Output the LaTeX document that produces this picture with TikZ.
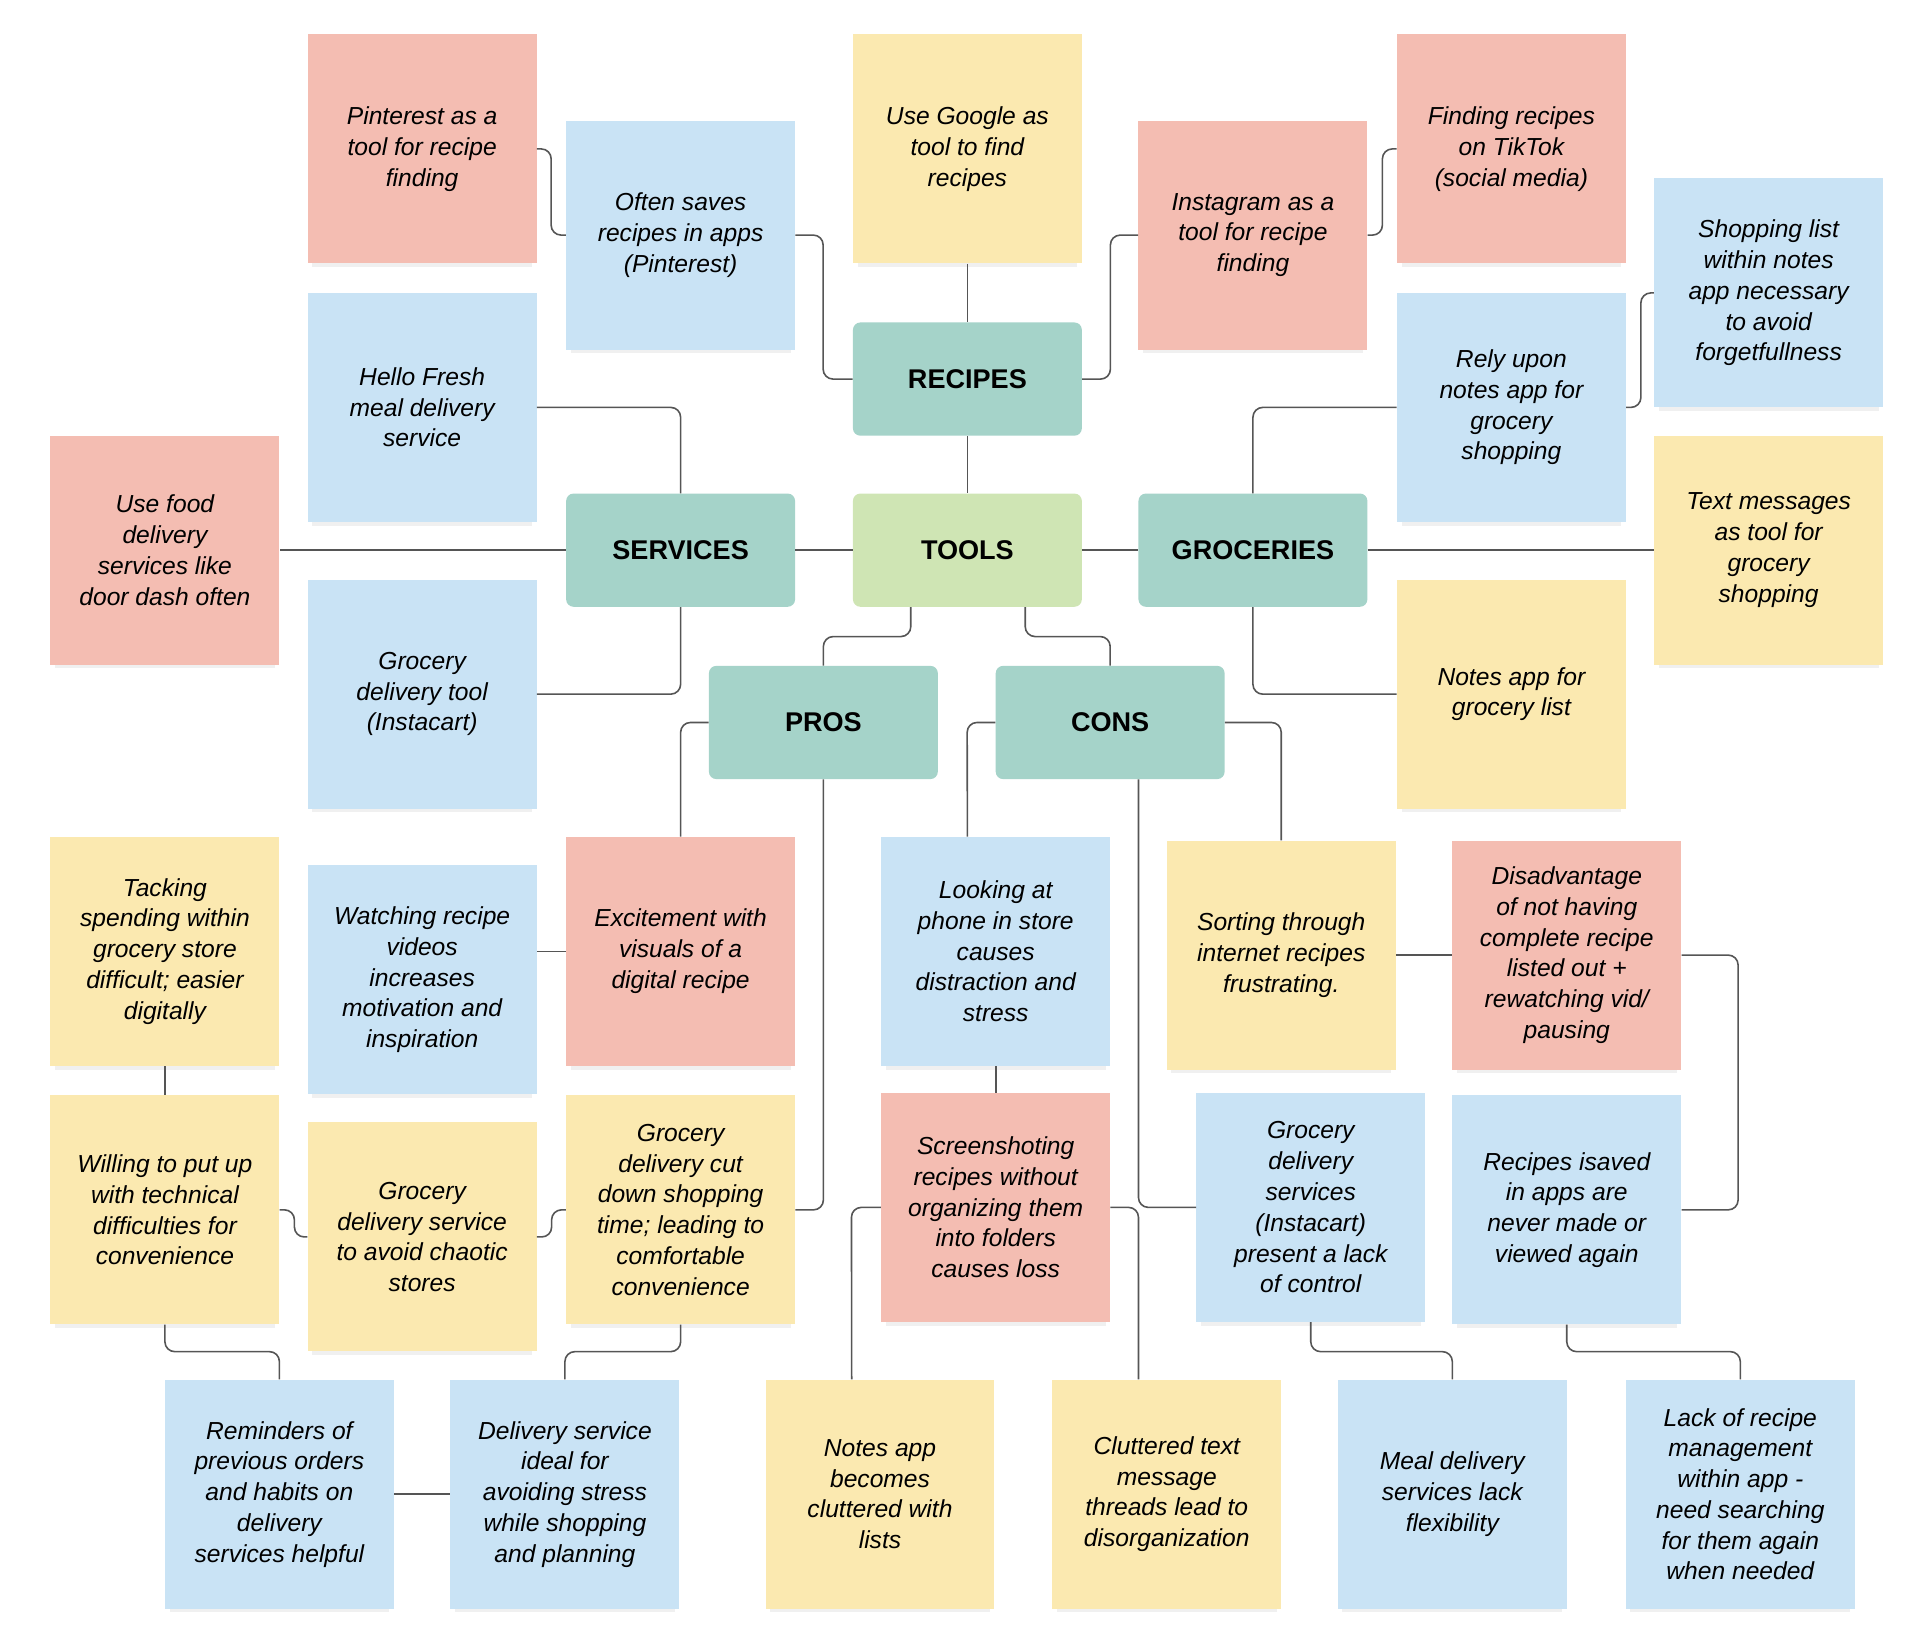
\documentclass[tikz,border=0pt]{standalone}
\usepackage{fontspec}
\setmainfont{Liberation Sans}
\usetikzlibrary{shadows}
\definecolor{notered}{HTML}{F4BDB2}
\definecolor{noteblue}{HTML}{C9E3F5}
\definecolor{noteyellow}{HTML}{FBE9B0}
\definecolor{hubteal}{HTML}{A5D3C9}
\definecolor{hubgreen}{HTML}{CFE5B4}
\definecolor{wire}{HTML}{555555}
\tikzstyle{note} = [align=center,rectangle,minimum width=186pt,minimum height=186pt,
  font=\fontsize{20}{25}\selectfont\itshape,drop shadow={shadow xshift=0pt,shadow yshift=-7pt,shadow scale=0.96,opacity=0.12}]
\tikzstyle{hub} = [align=center,rectangle,rounded corners=6pt,fill=hubteal,minimum width=186pt,minimum height=92pt,
  font=\fontsize{22}{26}\selectfont\bfseries]
\tikzstyle{link} = [draw=wire,line width=1.3pt,rounded corners=8pt]

\begin{document}
\begin{tikzpicture}[x=1pt,y=-1pt]
				\useasboundingbox (0,0) rectangle (1560,1333);
				% hubs
				\node (recipes) [hub] at (786,308) {RECIPES};
				\node (tools) [hub,fill=hubgreen] at (786,447) {TOOLS};
				\node (services) [hub] at (553,447) {SERVICES};
				\node (groceries) [hub] at (1018,447) {GROCERIES};
				\node (pros) [hub] at (669,587) {PROS};
				\node (cons) [hub] at (902,587) {CONS};
				% top notes
				\node (pinterest) [note,fill=notered] at (343,121) {Pinterest as a\\tool for recipe\\finding};
				\node (saves) [note,fill=noteblue] at (553,191) {Often saves\\recipes in apps\\(Pinterest)};
				\node (google) [note,fill=noteyellow] at (786,121) {Use Google as\\tool to find\\recipes};
				\node (insta) [note,fill=notered] at (1018,191) {Instagram as a\\tool for recipe\\finding};
				\node (tiktok) [note,fill=notered] at (1228,121) {Finding recipes\\on TikTok\\(social media)};
				\node (shoplist) [note,fill=noteblue] at (1437,238) {Shopping list\\within notes\\app necessary\\to avoid\\forgetfullness};
				\node (hellofresh) [note,fill=noteblue] at (343,331) {Hello Fresh\\meal delivery\\service};
				\node (fooddel) [note,fill=notered] at (134,447) {Use food\\delivery\\services like\\door dash often};
				\node (relyon) [note,fill=noteblue] at (1228,331) {Rely upon\\notes app for\\grocery\\shopping};
				\node (texts) [note,fill=noteyellow] at (1437,447) {Text messages\\as tool for\\grocery\\shopping};
				\node (instacart) [note,fill=noteblue] at (343,564) {Grocery\\delivery tool\\(Instacart)};
				\node (noteslist) [note,fill=noteyellow] at (1228,564) {Notes app for\\grocery list};
				% pros
				\node (tacking) [note,fill=noteyellow] at (134,773) {Tacking\\spending within\\grocery store\\difficult; easier\\digitally};
				\node (watching) [note,fill=noteblue] at (343,796) {Watching recipe\\videos\\increases\\motivation and\\inspiration};
				\node (excite) [note,fill=notered] at (553,773) {Excitement with\\visuals of a\\digital recipe};
				\node (willing) [note,fill=noteyellow] at (134,983) {Willing to put up\\with technical\\difficulties for\\convenience};
				\node (chaotic) [note,fill=noteyellow] at (343,1005) {Grocery\\delivery service\\to avoid chaotic\\stores};
				\node (cuttime) [note,fill=noteyellow] at (553,983) {Grocery\\delivery cut\\down shopping\\time; leading to\\comfortable\\convenience};
				\node (reminders) [note,fill=noteblue] at (227,1214) {Reminders of\\previous orders\\and habits on\\delivery\\services helpful};
				\node (ideal) [note,fill=noteblue] at (459,1214) {Delivery service\\ideal for\\avoiding stress\\while shopping\\and planning};
				% cons
				\node (phone) [note,fill=noteblue] at (809,773) {Looking at\\phone in store\\causes\\distraction and\\stress};
				\node (sorting) [note,fill=noteyellow] at (1041,776) {Sorting through\\internet recipes\\frustrating.};
				\node (disadv) [note,fill=notered] at (1273,776) {Disadvantage\\of not having\\complete recipe\\listed out +\\rewatching vid/\\pausing};
				\node (screens) [note,fill=notered] at (809,981) {Screenshoting\\recipes without\\organizing them\\into folders\\causes loss};
				\node (control) [note,fill=noteblue] at (1065,981) {Grocery\\delivery\\services\\(Instacart)\\present a lack\\of control};
				\node (isaved) [note,fill=noteblue] at (1273,983) {Recipes isaved\\in apps are\\never made or\\viewed again};
				\node (cluttered) [note,fill=noteyellow] at (715,1214) {Notes app\\becomes\\cluttered with\\lists};
				\node (threads) [note,fill=noteyellow] at (948,1214) {Cluttered text\\message\\threads lead to\\disorganization};
				\node (flex) [note,fill=noteblue] at (1180,1214) {Meal delivery\\services lack\\flexibility};
				\node (lackmgmt) [note,fill=noteblue] at (1414,1214) {Lack of recipe\\management\\within app -\\need searching\\for them again\\when needed};
				% connectors
				\draw [link] (google) -- (recipes);
				\draw [link] (recipes) -- (tools);
				\draw [link] (tools) -- (services);
				\draw [link] (tools) -- (groceries);
				\draw [link] (recipes.west) -- ++(-24,0) |- (saves.east);
				\draw [link] (saves.west) -- ++(-12,0) |- (pinterest.east);
				\draw [link] (recipes.east) -- ++(23,0) |- (insta.west);
				\draw [link] (insta.east) -- ++(12,0) |- (tiktok.west);
				\draw [link] (services.north) |- (hellofresh.east);
				\draw [link] (services) -- (fooddel);
				\draw [link] (services.south) |- (instacart.east);
				\draw [link] (groceries.north) |- (relyon.west);
				\draw [link] (relyon.east) -- ++(12,0) |- (shoplist.west);
				\draw [link] (groceries) -- (texts);
				\draw [link] (groceries.south) |- (noteslist.west);
				\draw [link] ([xshift=-46pt]tools.south) -- ++(0,24) -| (pros.north);
				\draw [link] ([xshift=47pt]tools.south) -- ++(0,24) -| (cons.north);
				\draw [link] (pros.west) -| (excite.north);
				\draw [link] (pros.south) |- (cuttime.east);
				\draw [link] (excite.west) -- (excite.west -| watching.east);
				\draw [link] (tacking) -- (willing);
				\draw [link] (willing.east) -- ++(12,0) |- (chaotic.west);
				\draw [link] (chaotic.east) -- ++(12,0) |- (cuttime.west);
				\draw [link] (willing.south) -- ++(0,22) -| (reminders.north);
				\draw [link] (cuttime.south) -- ++(0,22) -| (ideal.north);
				\draw [link] (reminders) -- (ideal);
				\draw [link] (cons.west) -- ++(-23,0) -- ([xshift=-23pt]phone.north);
				\draw [link] (cons.east) -| (sorting.north);
				\draw [link] ([xshift=23pt]cons.south) |- (control.west);
				\draw [link] (sorting) -- (disadv);
				\draw [link] (disadv.east) -- ++(46,0) |- (isaved.east);
				\draw [link] (phone) -- (screens);
				\draw [link] (screens.west) -- ++(-24,0) -- ([xshift=-23pt]cluttered.north);
				\draw [link] (screens.east) -| ([xshift=-23pt]threads.north);
				\draw [link] (control.south) -- ++(0,24) -| (flex.north);
				\draw [link] (isaved.south) -- ++(0,22) -| (lackmgmt.north);
			\end{tikzpicture}
\end{document}
